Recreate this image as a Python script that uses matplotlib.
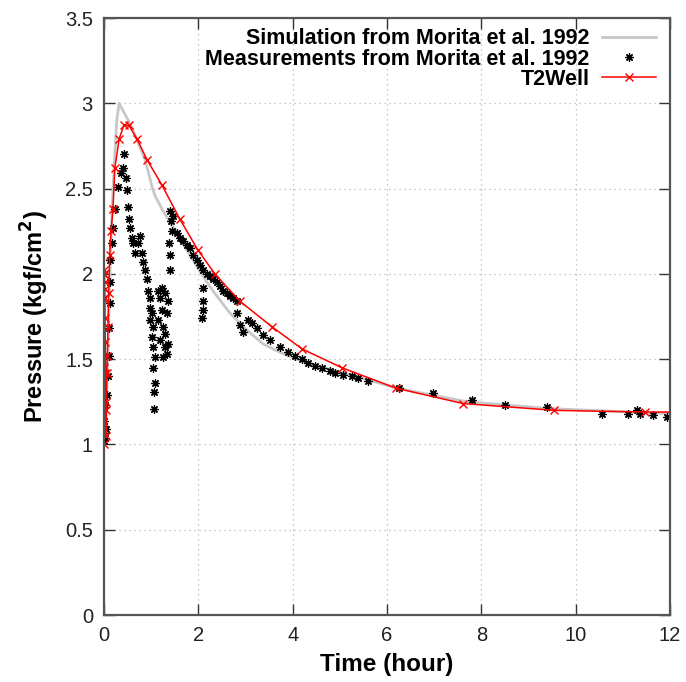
import matplotlib
matplotlib.use("Agg")
import matplotlib.pyplot as plt

plt.rcParams["font.family"] = ["Liberation Sans", "DejaVu Sans"]

# Simulated wellhead pressure (Morita et al. 1992)
sim_time = [0.0, 0.03, 0.06, 0.09, 0.12, 0.16, 0.21, 0.27, 0.32, 0.59, 0.87,
            1.02, 1.08, 1.25, 1.61, 1.97, 2.31, 2.67, 3.03, 3.37, 3.73, 4.09,
            4.52, 5.07, 6.21, 7.70, 9.46, 11.2, 12.0]
sim_pres = [1.00, 1.05, 1.30, 1.60, 1.95, 2.30, 2.60, 2.90, 3.00, 2.86, 2.67,
            2.51, 2.46, 2.37, 2.21, 2.04, 1.90, 1.77, 1.67, 1.59, 1.54, 1.50,
            1.46, 1.42, 1.33, 1.25, 1.21, 1.19, 1.18]

# Field measurements (Morita et al. 1992)
meas_time = [0.00, 0.00, 0.00, 0.02, 0.00, 0.04, 0.02, 0.06, 0.08, 0.11,
             0.11, 0.13, 0.13, 0.13, 0.17, 0.19, 0.23, 0.30, 0.36, 0.40,
             0.42, 0.47, 0.49, 0.51, 0.53, 0.55, 0.59, 0.61, 0.72, 0.76,
             0.66, 0.81, 0.83, 0.87, 0.91, 0.93, 0.98, 0.98, 1.02, 0.98,
             1.04, 1.02, 1.04, 1.08, 1.04, 1.08, 1.06, 1.06,
             1.14, 1.23, 1.29, 1.19, 1.36, 1.23, 1.34, 1.25, 1.29, 1.36,
             1.29, 1.25, 1.34, 1.19, 1.14,
             1.40, 1.40, 1.38, 1.44, 1.42, 1.40, 1.46,
             1.55, 1.61, 1.67, 1.76, 1.82, 1.89, 1.97, 2.04, 2.10, 2.18,
             2.25, 2.31, 2.40, 2.46, 2.52, 2.61, 2.67, 2.73, 2.82,
             2.10, 2.10, 2.10, 2.08,
             2.82, 2.88, 2.95, 3.05, 3.14, 3.24, 3.37, 3.52, 3.73, 3.90,
             4.05, 4.20, 4.32, 4.47, 4.62, 4.79, 4.90, 5.07, 5.26, 5.38,
             5.60, 6.25, 6.97, 7.80, 8.50, 9.39, 10.56, 11.11, 11.30, 11.36,
             11.64, 11.94]
meas_pres = [1.02, 1.07, 1.11, 1.04, 1.14, 1.09, 1.23, 1.29, 1.40, 1.52,
             1.68, 1.83, 1.95, 2.08, 2.18, 2.27, 2.38, 2.51, 2.59, 2.62,
             2.70, 2.56, 2.49, 2.39, 2.32, 2.27, 2.21, 2.18, 2.18, 2.22,
             2.12, 2.12, 2.07, 2.02, 1.97, 1.90, 1.86, 1.80, 1.77, 1.73,
             1.69, 1.63, 1.57, 1.51, 1.45, 1.36, 1.31, 1.21,
             1.90, 1.92, 1.89, 1.86, 1.84, 1.79, 1.77, 1.69, 1.65, 1.59,
             1.57, 1.51, 1.53, 1.61, 1.73,
             2.02, 2.11, 2.18, 2.25, 2.31, 2.37, 2.34,
             2.24, 2.21, 2.19, 2.17, 2.15, 2.11, 2.08, 2.05, 2.02, 2.00,
             1.99, 1.97, 1.95, 1.93, 1.90, 1.89, 1.87, 1.86, 1.84,
             1.92, 1.84, 1.79, 1.74,
             1.77, 1.70, 1.66, 1.73, 1.71, 1.68, 1.64, 1.61, 1.57, 1.54,
             1.52, 1.50, 1.48, 1.46, 1.45, 1.43, 1.42, 1.41, 1.40, 1.39,
             1.37, 1.33, 1.30, 1.26, 1.23, 1.22, 1.18, 1.18, 1.20, 1.18,
             1.17, 1.16]

# T2Well results
t2w_time = [0.000, 0.002, 0.004, 0.006, 0.008, 0.010, 0.013, 0.016, 0.019,
            0.022, 0.026, 0.030, 0.035, 0.040, 0.050, 0.060, 0.070, 0.085,
            0.100, 0.120, 0.150, 0.190, 0.230, 0.320, 0.420, 0.530, 0.700,
            0.910, 1.230, 1.610, 1.990, 2.350, 2.880, 3.560, 4.200, 5.040,
            6.190, 7.610, 9.540, 11.470, 12.0]
t2w_pres = [1.00, 1.45, 1.85, 2.00, 2.02, 2.00, 1.95, 1.91, 1.86,
            1.74, 1.60, 1.42, 1.25, 1.05, 1.20, 1.42, 1.52, 1.69,
            1.89, 2.11, 2.25, 2.38, 2.62, 2.79, 2.87, 2.87, 2.79,
            2.67, 2.52, 2.32, 2.14, 2.00, 1.84, 1.69, 1.56, 1.45,
            1.33, 1.24, 1.20, 1.19, 1.19]

fig = plt.figure(figsize=(6.86, 6.82), dpi=100)
ax = fig.add_axes([0.1516, 0.0982, 0.8251, 0.8754])

ax.plot(sim_time, sim_pres, color="#c8c8c8", lw=2.0,
        label="Simulation from Morita et al. 1992")
ax.plot(meas_time, meas_pres, ls="none", marker=(8, 2, 0), ms=6,
        mew=0.9, color="black", label="Measurements from Morita et al. 1992")
ax.plot(t2w_time, t2w_pres, color="red", lw=1.1, marker="x", ms=6, mew=1.0,
        markevery=list(range(len(t2w_time) - 1)), label="T2Well")

ax.set_xlim(0, 12)
ax.set_ylim(0, 3.5)
ax.set_xticks(range(0, 13, 2))
ax.set_yticks([0, 0.5, 1, 1.5, 2, 2.5, 3, 3.5])
ax.set_yticklabels(["0", "0.5", "1", "1.5", "2", "2.5", "3", "3.5"])

ax.grid(True, ls=(0, (1, 3)), color="#b8b8b8", lw=0.9)
ax.tick_params(direction="in", length=8, width=1.0, color="#333333",
               top=True, right=True, labelsize=14.5, pad=8,
               labelcolor="#222222")
for sp in ax.spines.values():
    sp.set_color("#555555")
    sp.set_linewidth(1.6)

ax.set_xlabel("Time (hour)", fontsize=17.5, fontweight="bold", labelpad=6)
ax.set_ylabel("Pressure (kgf/cm$^\\mathbf{2}$)", fontsize=17,
              fontweight="bold", labelpad=10)

leg = ax.legend(loc="upper right", frameon=False, markerfirst=False,
                prop={"weight": "bold", "size": 15.5}, handlelength=2.5,
                handletextpad=0.55, labelspacing=-0.03, borderpad=0.2,
                borderaxespad=0.0, bbox_to_anchor=(0.982, 0.99))

fig.savefig("out.png", dpi=100)
